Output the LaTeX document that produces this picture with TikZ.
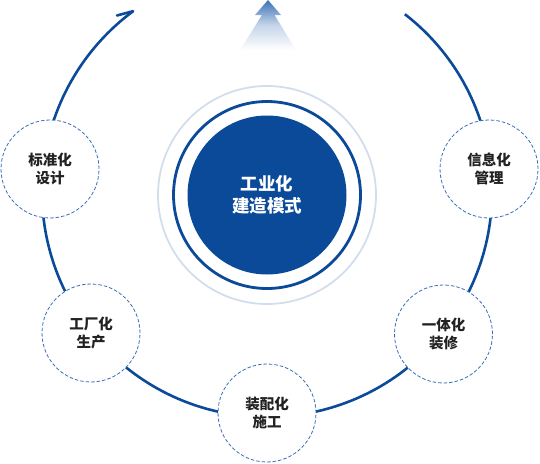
\documentclass[tikz,border=0pt]{standalone}
\usepackage{fontspec}
\newfontfamily\cjk{Noto Sans CJK SC}
\definecolor{navy}{HTML}{0B4A99}
\definecolor{lightring}{HTML}{D3DEEC}
\definecolor{dashblue}{HTML}{3A6FB5}
\definecolor{arrowblue}{HTML}{3D72B6}
\definecolor{txt}{HTML}{222222}
\begin{document}
\begin{tikzpicture}[x=1pt,y=-1pt,
  smallcirc/.style={circle, draw=dashblue, line width=0.8pt, dash pattern=on 3.5pt off 2pt,
    fill=white, minimum size=98pt, inner sep=0pt, align=center, text=txt,
    font=\cjk\bfseries\fontsize{14.5}{18.5}\selectfont},
  bigarc/.style={draw=navy, line width=2.6pt}]
\useasboundingbox (0,0) rectangle (540,463);
% top gradient arrow
\shade[top color=arrowblue, bottom color=white, middle color=arrowblue!30]
  (268,0) -- (281,15) -- (274.5,15) -- (296,50) -- (240,50) -- (262,15) -- (255,15) -- cycle;
% big arc
\coordinate (c) at (267,192);
\draw[bigarc] (c) ++(-52.2:225) arc[start angle=-52.2, end angle=233.5, radius=225] coordinate (tip);
\coordinate (barb) at (117,15.5);
\draw[bigarc, line cap=round] (tip) -- (barb);
% center
\node[circle, draw=lightring, line width=1.8pt, minimum size=218pt, inner sep=0pt] (ring1) at (267,195) {};
\node[circle, draw=navy, line width=2.8pt, minimum size=187pt, inner sep=0pt] (ring2) at (267,195) {};
\node[circle, fill=navy, minimum size=159pt, inner sep=0pt, align=center, text=white,
  font=\cjk\bfseries\fontsize{17.5}{22}\selectfont] (core) at (267,195) {工业化\\建造模式};
% small circles
\node[smallcirc] (n1) at (50,169) {标准化\\设计};
\node[smallcirc] (n2) at (489,169) {信息化\\管理};
\node[smallcirc] (n3) at (91,333) {工厂化\\生产};
\node[smallcirc] (n4) at (443.5,334) {一体化\\装修};
\node[smallcirc] (n5) at (267,413) {装配化\\施工};
\end{tikzpicture}
\end{document}
